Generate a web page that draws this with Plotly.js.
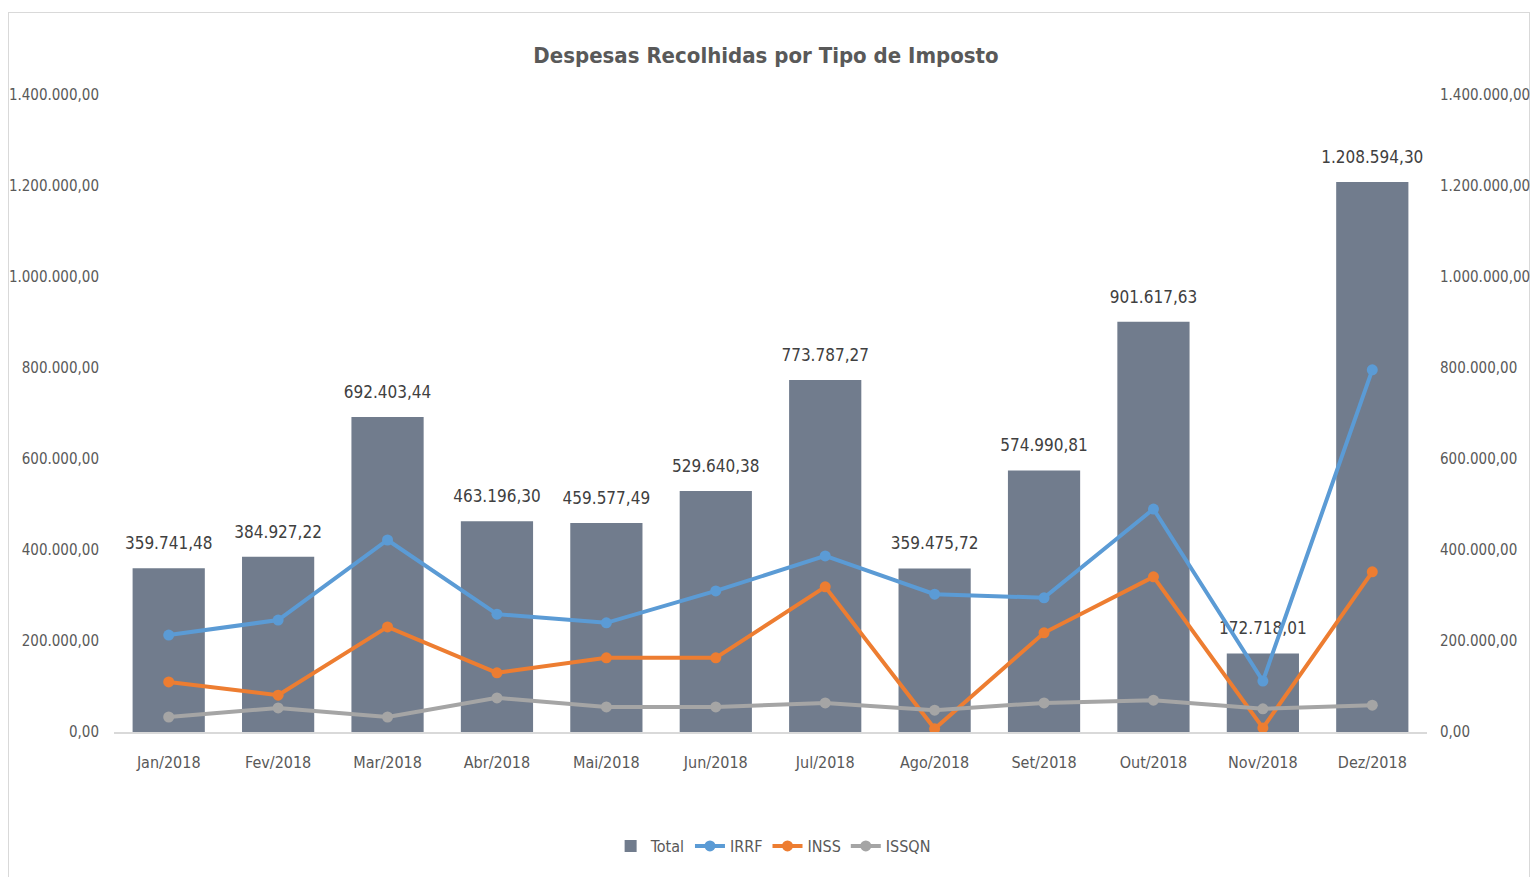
<!DOCTYPE html>
<html>
<head>
<meta charset="utf-8">
<script src="https://cdn.plot.ly/plotly-3.0.1.min.js"></script>
<style>
  html, body { margin: 0; padding: 0; background: #ffffff; }
  #frame { position: absolute; left: 8px; top: 12px; width: 1522px; height: 880px; border: 1px solid #d9d9d9; box-sizing: border-box; }
  #chart { position: absolute; left: 0; top: 0; width: 1532px; height: 877px; }
</style>
</head>
<body>
<div id="frame"></div>
<div id="chart"></div>
<script>
const months = ["Jan/2018","Fev/2018","Mar/2018","Abr/2018","Mai/2018","Jun/2018","Jul/2018","Ago/2018","Set/2018","Out/2018","Nov/2018","Dez/2018"];
const total = [359741.48, 384927.22, 692403.44, 463196.30, 459577.49, 529640.38, 773787.27, 359475.72, 574990.81, 901617.63, 172718.01, 1208594.30];
const irrf  = [213000, 246000, 422000, 259000, 240000, 310000, 387000, 303000, 295000, 490000, 112000, 796000];
const inss  = [110000, 81000, 231000, 130000, 163000, 163000, 319000, 7000, 218000, 341000, 9000, 352000];
const issqn = [33000, 53000, 33000, 75000, 55000, 55000, 64000, 48000, 64000, 70000, 51000, 59000];
const tickVals = [0, 200000, 400000, 600000, 800000, 1000000, 1200000, 1400000];

function fmtBR(v) {
  const parts = v.toFixed(2).split(".");
  const intPart = parts[0].replace(/\B(?=(\d{3})+(?!\d))/g, ".");
  return intPart + "," + parts[1];
}
const tickText = tickVals.map(fmtBR);
const totalLabels = total.map(fmtBR);

const FONT = "'DejaVu Sans Condensed', 'Liberation Sans Narrow', sans-serif";

const traces = [
  {
    type: "bar", name: "Total", x: months, y: total,
    marker: { color: "#717c8d" },
    hoverinfo: "x+y"
  },
  {
    type: "scatter", mode: "lines+markers", name: "IRRF", x: months, y: irrf, yaxis: "y2",
    line: { color: "#5b9bd5", width: 4 }, marker: { color: "#5b9bd5", size: 11 }
  },
  {
    type: "scatter", mode: "lines+markers", name: "INSS", x: months, y: inss, yaxis: "y2",
    line: { color: "#ed7d31", width: 4 }, marker: { color: "#ed7d31", size: 11 }
  },
  {
    type: "scatter", mode: "lines+markers", name: "ISSQN", x: months, y: issqn, yaxis: "y2",
    line: { color: "#a5a5a5", width: 4 }, marker: { color: "#a5a5a5", size: 11 }
  },
  {
    type: "scatter", mode: "markers+text", name: "Total labels", x: months, y: total,
    showlegend: false, cliponaxis: false,
    marker: { size: 22, opacity: 0, color: "#717c8d" },
    text: totalLabels, textposition: "top center",
    textfont: { family: FONT, size: 17, color: "#404040" },
    hoverinfo: "skip"
  }
];

const layout = {
  width: 1532, height: 877,
  paper_bgcolor: "rgba(0,0,0,0)", plot_bgcolor: "rgba(0,0,0,0)",
  margin: { l: 114, r: 105, t: 95, b: 145 },
  font: { family: FONT, color: "#595959", size: 15 },
  title: {
    text: "<b>Despesas Recolhidas por Tipo de Imposto</b>",
    font: { family: FONT, size: 22, color: "#595959" },
    x: 0.5, xanchor: "center", y: 0.937, yanchor: "middle"
  },
  bargap: 0.34,
  showlegend: true,
  legend: {
    orientation: "h", x: 0.502, xanchor: "center", y: -0.179, yanchor: "middle",
    font: { family: FONT, size: 16, color: "#595959" }, traceorder: "normal"
  },
  xaxis: {
    type: "category", range: [-0.5, 11.5], showgrid: false, zeroline: false, automargin: false,
    showline: true, linecolor: "#d9d9d9", linewidth: 1.5,
    ticks: "", tickfont: { family: FONT, size: 16, color: "#595959" }, ticklabelstandoff: 15
  },
  yaxis: {
    range: [0, 1400000], tickvals: tickVals, ticktext: tickText, automargin: false,
    showgrid: false, zeroline: false, showline: false, ticks: "",
    tickfont: { family: FONT, size: 15, color: "#595959" }, ticklabelstandoff: 14
  },
  yaxis2: {
    range: [0, 1400000], tickvals: tickVals, ticktext: tickText, automargin: false,
    overlaying: "y", side: "right",
    showgrid: false, zeroline: false, showline: false, ticks: "",
    tickfont: { family: FONT, size: 15, color: "#595959" }, ticklabelstandoff: 12
  }
};

Plotly.newPlot("chart", traces, layout, { displayModeBar: false, staticPlot: true });
</script>
</body>
</html>
